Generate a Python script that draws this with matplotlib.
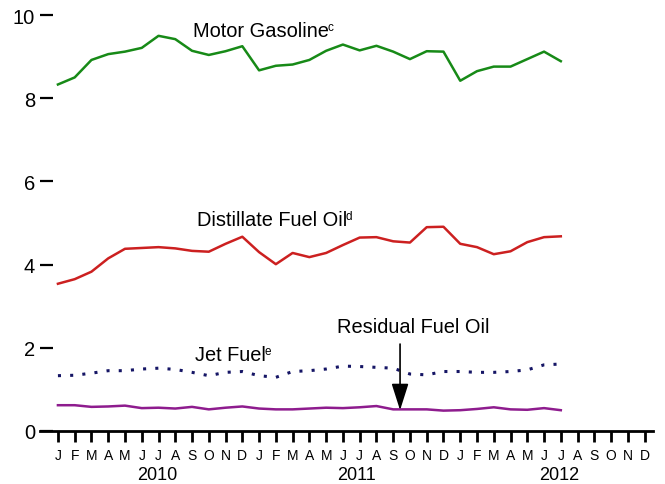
import numpy as np
import matplotlib.pyplot as plt

plt.rcParams['font.family'] = ['Liberation Sans', 'DejaVu Sans']

# months Jan 2010 .. Jul 2012
gasoline = [8.33, 8.50, 8.92, 9.06, 9.12, 9.21, 9.50, 9.42, 9.14, 9.04, 9.13, 9.25,
            8.67, 8.78, 8.81, 8.92, 9.14, 9.29, 9.15, 9.26, 9.12, 8.94, 9.13, 9.12,
            8.42, 8.65, 8.76, 8.76, 8.94, 9.12, 8.89]
distillate = [3.54, 3.65, 3.83, 4.15, 4.38, 4.40, 4.42, 4.39, 4.33, 4.31, 4.50, 4.67,
              4.30, 4.01, 4.28, 4.18, 4.28, 4.47, 4.65, 4.66, 4.56, 4.53, 4.90, 4.91,
              4.50, 4.42, 4.25, 4.32, 4.54, 4.66, 4.68]
jet_fuel = [1.33, 1.34, 1.39, 1.45, 1.45, 1.49, 1.51, 1.48, 1.41, 1.33, 1.41, 1.43,
            1.33, 1.29, 1.43, 1.45, 1.49, 1.56, 1.55, 1.53, 1.51, 1.37, 1.35, 1.43,
            1.43, 1.41, 1.41, 1.43, 1.47, 1.59, 1.61]
residual = [0.62, 0.62, 0.58, 0.59, 0.61, 0.55, 0.56, 0.54, 0.58, 0.52, 0.56, 0.59,
            0.54, 0.52, 0.52, 0.54, 0.56, 0.55, 0.57, 0.60, 0.52, 0.52, 0.52, 0.49,
            0.50, 0.53, 0.57, 0.52, 0.51, 0.55, 0.50]
month_labels = list("JFMAMJJASOND") * 3
years = ["2010", "2011", "2012"]
year_pos = [5.9, 17.8, 29.9]

x = np.arange(len(gasoline))

fig = plt.figure(figsize=(6.65, 4.85), dpi=100)
ax = fig.add_axes([40 / 665, 53 / 485, 613 / 665, 424.3 / 485])

ax.plot(x, gasoline, color='#178a17', lw=1.8)
ax.plot(x, distillate, color='#cc2020', lw=1.8)
ax.plot(x, jet_fuel, color='#151565', lw=2.2, linestyle=(0, (1, 3)))
ax.plot(x, residual, color='#8e1c8e', lw=1.8)

ax.set_xlim(-1.07, 35.5)
ax.set_ylim(0, 10.2)

for s in ['top', 'right', 'left']:
    ax.spines[s].set_visible(False)
ax.spines['bottom'].set_linewidth(2)

ax.set_yticks([0, 2, 4, 6, 8, 10])
ax.tick_params(axis='y', direction='in', length=9, width=1.6, pad=3.5, labelsize=14.5)
ax.set_xticks(np.arange(36))
ax.set_xticklabels(month_labels)
ax.tick_params(axis='x', direction='out', length=8, width=2, pad=4, labelsize=10)

for yr, p in zip(years, year_pos):
    ax.annotate(yr, xy=(p, 0), xycoords=('data', 'axes fraction'),
                xytext=(0, -31), textcoords='offset points',
                ha='center', va='center', fontsize=13)

labels = [('Motor Gasoline', 'c', 8.06, 9.62),
          ('Distillate Fuel Oil', 'd', 8.3, 5.08),
          ('Jet Fuel', 'e', 8.2, 1.83)]
fig.canvas.draw()
rend = fig.canvas.get_renderer()
for txt, sup, lx, ly in labels:
    t = ax.text(lx, ly, txt, fontsize=14.4, va='center')
    bb = t.get_window_extent(renderer=rend)
    fig.text((bb.x1 - 1.5) / fig.bbox.width, (bb.y1 + 0.5) / fig.bbox.height, sup,
             fontsize=8.5, va='top', ha='left')

ax.text(21.2, 2.51, 'Residual Fuel Oil', fontsize=14.4, ha='center', va='center')
ax.annotate('', xy=(20.41, 0.50), xytext=(20.41, 2.09),
            arrowprops=dict(arrowstyle='-|>,head_length=1.1,head_width=0.35',
                            color='black', lw=1.2, mutation_scale=15,
                            shrinkA=0, shrinkB=0))

fig.savefig('out.png', dpi=100)
